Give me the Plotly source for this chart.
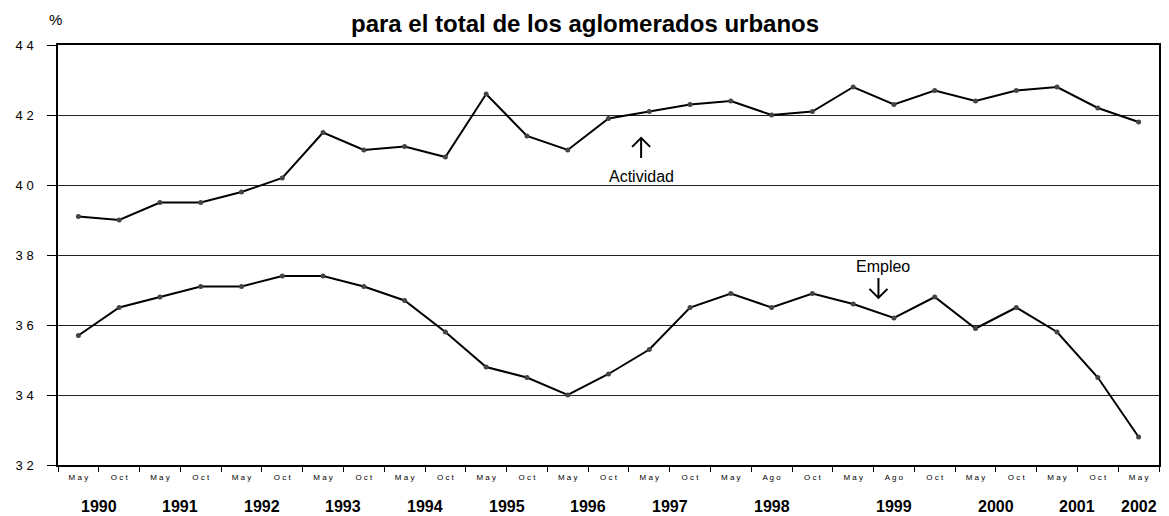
import plotly.graph_objects as go

months = ["May", "Oct", "May", "Oct", "May", "Oct", "May", "Oct", "May", "Oct",
          "May", "Oct", "May", "Oct", "May", "Oct", "May", "Ago", "Oct",
          "May", "Ago", "Oct", "May", "Oct", "May", "Oct", "May"]
years = ["1990", "1990", "1991", "1991", "1992", "1992", "1993", "1993", "1994", "1994",
         "1995", "1995", "1996", "1996", "1997", "1997", "1998", "1998", "1998",
         "1999", "1999", "1999", "2000", "2000", "2001", "2001", "2002"]
actividad = [39.1, 39.0, 39.5, 39.5, 39.8, 40.2, 41.5, 41.0, 41.1, 40.8,
             42.6, 41.4, 41.0, 41.9, 42.1, 42.3, 42.4, 42.0, 42.1,
             42.8, 42.3, 42.7, 42.4, 42.7, 42.8, 42.2, 41.8]
empleo = [35.7, 36.5, 36.8, 37.1, 37.1, 37.4, 37.4, 37.1, 36.7, 35.8,
          34.8, 34.5, 34.0, 34.6, 35.3, 36.5, 36.9, 36.5, 36.9,
          36.6, 36.2, 36.8, 35.9, 36.5, 35.8, 34.5, 32.8]
y_ticks = [32, 34, 36, 38, 40, 42, 44]

x = list(range(len(months)))
font = "Arial, Liberation Sans, sans-serif"

fig = go.Figure()
for vals in (actividad, empleo):
    fig.add_trace(go.Scatter(
        x=x, y=vals, mode="lines+markers",
        line=dict(color="black", width=2),
        marker=dict(color="#444", size=5),
        showlegend=False,
    ))

# year labels centred under their months
ann = []
for yr in dict.fromkeys(years):
    idx = [i for i, y in enumerate(years) if y == yr]
    ann.append(dict(
        x=sum(idx) / len(idx), y=-0.098, xref="x", yref="paper",
        yanchor="middle", text=f"<b>{yr}</b>", showarrow=False,
        font=dict(size=16, family=font, color="black"),
    ))

ann += [
    dict(x=0.479, xref="paper", y=1.088, yref="paper", xanchor="center",
         yanchor="top",
         text="<b>para el total de los aglomerados urbanos</b>", showarrow=False,
         font=dict(size=24, family=font, color="black")),
    dict(x=-0.002, xref="paper", y=1.06, yref="paper", xanchor="center",
         yanchor="middle", text="%", showarrow=False,
         font=dict(size=15, family=font, color="black")),
    dict(x=13.8, y=40.23, text="Actividad", showarrow=False,
         font=dict(size=16, family=font, color="black")),
    dict(x=19.74, y=37.66, text="Empleo", showarrow=False,
         font=dict(size=16, family=font, color="black")),
]

# hand-drawn style arrows pointing at each series
arrow_up = "M 0 -10 L 0 10 M -9 1 L 0 10 L 9 1"
arrow_down = "M 0 10 L 0 -10 M -9 -1 L 0 -10 L 9 -1"
shapes = [
    dict(type="path", xref="x", yref="y", xsizemode="pixel", ysizemode="pixel",
         xanchor=13.8, yanchor=41.06, path=arrow_up,
         line=dict(color="black", width=2)),
    dict(type="path", xref="x", yref="y", xsizemode="pixel", ysizemode="pixel",
         xanchor=19.62, yanchor=37.06, path=arrow_down,
         line=dict(color="black", width=2)),
]

# page has an 8px body margin, so the figure is a little smaller than the window
fig.update_layout(
    width=1161, height=508,
    margin=dict(l=49, r=8, t=37, b=51),
    plot_bgcolor="white", paper_bgcolor="white",
    font=dict(family=font, color="black"),
    annotations=ann, shapes=shapes,
)
fig.update_xaxes(
    range=[-0.5, len(months) - 0.5],
    tickmode="array", tickvals=x, ticktext=[" ".join(m) for m in months],
    tickfont=dict(size=8, color="black"), ticks="", showgrid=False,
    ticklabelstandoff=4,
    showline=True, linecolor="black", linewidth=1.5, mirror=True,
    minor=dict(tick0=-0.5, dtick=1, ticks="outside", ticklen=5,
               tickcolor="black", showgrid=False),
    zeroline=False,
)
fig.update_yaxes(
    range=[32, 44],
    tickmode="array", tickvals=y_ticks, ticktext=[" ".join(str(v)) for v in y_ticks],
    tickfont=dict(size=13), ticks="outside", ticklen=9, tickcolor="black",
    ticklabelstandoff=11,
    showgrid=True, gridcolor="#222", gridwidth=1,
    showline=True, linecolor="black", linewidth=1.5, mirror=True,
    zeroline=False,
)

fig.write_html("out.html")
